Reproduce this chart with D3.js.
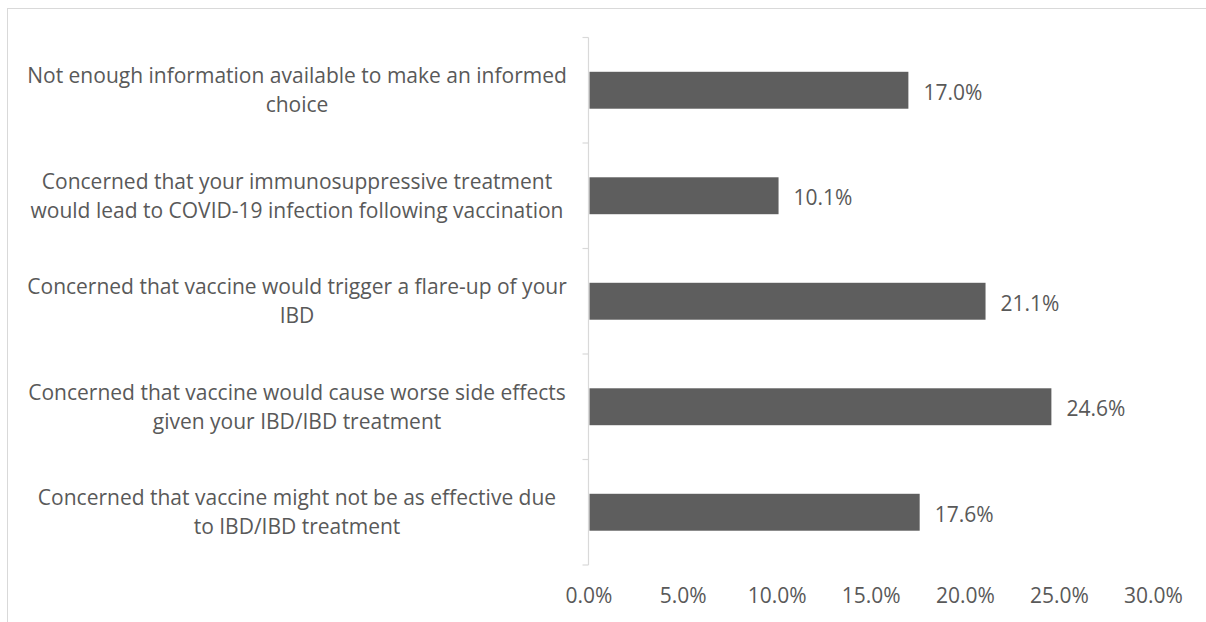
<!DOCTYPE html>
<html>
<head>
<meta charset="utf-8">
<script src="https://cdn.jsdelivr.net/npm/d3@7"></script>
<style>
  body { margin: 0; background: #fff; }
  svg text { font-family: "Open Sans", sans-serif; fill: #595959; }
</style>
</head>
<body>
<div id="chart"></div>
<script>
// category labels, already wrapped the way the chart shows them
const categories = [
  ['Not enough information available to make an informed', 'choice'],
  ['Concerned that your immunosuppressive treatment', 'would lead to COVID-19 infection following vaccination'],
  ['Concerned that vaccine would trigger a flare-up of your', 'IBD'],
  ['Concerned that vaccine would cause worse side effects', 'given your IBD/IBD treatment'],
  ['Concerned that vaccine might not be as effective due', 'to IBD/IBD treatment']
];
const values = [0.170, 0.101, 0.211, 0.246, 0.176];
const xTicks = [0, 0.05, 0.10, 0.15, 0.20, 0.25, 0.30];

const width = 1206;
const height = 622;
const margin = {top: 37.5, right: 53, bottom: 57, left: 588.5};
const fontSize = '21px';

const svg = d3.select('#chart').append('svg')
  .attr('width', width)
  .attr('height', height);

// chart area border
svg.append('rect')
  .attr('x', 7.5)
  .attr('y', 8.5)
  .attr('width', width + 20)
  .attr('height', height + 20)
  .attr('fill', 'none')
  .attr('stroke', '#d9d9d9');

const keys = categories.map(function (d, i) { return i; });

const x = d3.scaleLinear()
  .domain([0, 0.30])
  .range([margin.left, width - margin.right]);

const y = d3.scaleBand()
  .domain(keys)
  .range([margin.top, height - margin.bottom])
  .paddingInner(0.65)
  .paddingOuter(0.325);

// vertical axis line + ticks between categories
const bandEdges = keys.map(function (k) { return y(k) - y.step() * y.paddingInner() / 2; })
  .concat([height - margin.bottom]);

svg.append('line')
  .attr('x1', margin.left)
  .attr('x2', margin.left)
  .attr('y1', margin.top)
  .attr('y2', height - margin.bottom)
  .attr('stroke', '#d9d9d9')
  .attr('stroke-width', 1.2);

svg.selectAll('.ytick')
  .data(bandEdges)
  .enter().append('line')
  .attr('class', 'ytick')
  .attr('x1', margin.left - 6)
  .attr('x2', margin.left)
  .attr('y1', function (d) { return d; })
  .attr('y2', function (d) { return d; })
  .attr('stroke', '#d9d9d9')
  .attr('stroke-width', 1.2);

// category labels
const labels = svg.selectAll('.catLabel')
  .data(categories)
  .enter().append('text')
  .attr('class', 'catLabel')
  .attr('text-anchor', 'middle')
  .style('font-size', fontSize)
  .attr('transform', function (d, i) {
    return `translate(297, ${y(i) + y.bandwidth() / 2})`;
  });

labels.selectAll('tspan')
  .data(function (d) { return d; })
  .enter().append('tspan')
  .attr('x', 0)
  .attr('y', function (d, i, nodes) {
    return (i - (nodes.length - 1) / 2) * 29;
  })
  .attr('dy', '0.35em')
  .text(function (d) { return d; });

// bars
svg.selectAll('.bar')
  .data(values)
  .enter().append('rect')
  .attr('class', 'bar')
  .attr('x', x(0) + 1)
  .attr('y', function (d, i) { return y(i); })
  .attr('width', function (d) { return x(d) - x(0) - 1; })
  .attr('height', y.bandwidth())
  .attr('fill', '#5e5e5e');

// value labels
svg.selectAll('.valLabel')
  .data(values)
  .enter().append('text')
  .attr('class', 'valLabel')
  .style('font-size', fontSize)
  .attr('x', function (d) { return x(d) + 15; })
  .attr('y', function (d, i) { return y(i) + y.bandwidth() / 2 + 2; })
  .attr('dy', '0.35em')
  .text(function (d) { return d3.format('.1%')(d); });

// x axis labels only
const xAxis = svg.append('g')
  .attr('transform', `translate(0, ${height - margin.bottom})`)
  .call(d3.axisBottom(x)
    .tickValues(xTicks)
    .tickFormat(d3.format('.1%'))
    .tickSize(0)
    .tickPadding(23));

xAxis.select('.domain').remove();
xAxis.selectAll('text')
  .style('font-size', fontSize)
  .style('font-family', '"Open Sans", sans-serif')
  .attr('fill', '#595959');
</script>
</body>
</html>
